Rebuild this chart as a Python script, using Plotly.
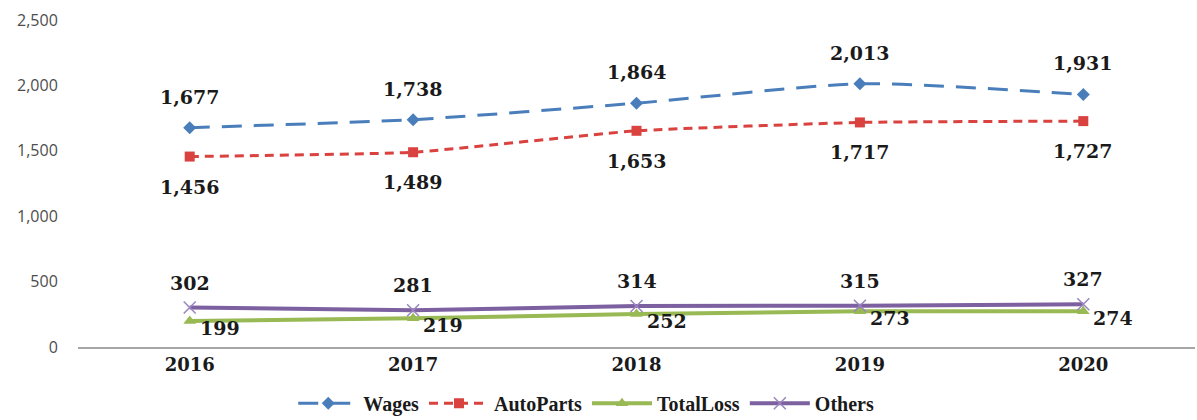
import plotly.graph_objects as go

years = ["2016", "2017", "2018", "2019", "2020"]
wages = [1677, 1738, 1864, 2013, 1931]
auto_parts = [1456, 1489, 1653, 1717, 1727]
total_loss = [199, 219, 252, 273, 274]
others = [302, 281, 314, 315, 327]

label_font = dict(family="DejaVu Serif", size=19, color="#1a1a1a", weight=700)

fig = go.Figure()

fig.add_trace(go.Scatter(
    x=years, y=wages, name="Wages", mode="lines+markers",
    line=dict(color="#4a7ebb", width=3, dash="20px,12px", shape="spline", smoothing=0.6),
    marker=dict(symbol="diamond", size=10, color="#4a7ebb"),
))
fig.add_trace(go.Scatter(
    x=years, y=auto_parts, name="AutoParts", mode="lines+markers",
    line=dict(color="#d9423f", width=3, dash="9px,6px", shape="spline", smoothing=0.4),
    marker=dict(symbol="square", size=10, color="#d9423f"),
))
fig.add_trace(go.Scatter(
    x=years, y=total_loss, name="TotalLoss", mode="lines+markers",
    line=dict(color="#98b954", width=4),
    marker=dict(symbol="triangle-up", size=11, color="#98b954"),
))
fig.add_trace(go.Scatter(
    x=years, y=others, name="Others", mode="lines+markers",
    line=dict(color="#7d60a0", width=4),
    marker=dict(symbol="x-thin", size=12, line=dict(color="#9b84c0", width=1.5)),
))

def fmt(v):
    return f"{v:,}"

# value labels, placed by category index on the category axis
annotations = []
for i, v in enumerate(wages):
    annotations.append(dict(x=i, y=v, text=fmt(v), showarrow=False, yshift=31, font=label_font))
for i, v in enumerate(auto_parts):
    annotations.append(dict(x=i, y=v, text=fmt(v), showarrow=False, yshift=-30, font=label_font))
for i, v in enumerate(others):
    annotations.append(dict(x=i, y=v, text=fmt(v), showarrow=False, yshift=25, font=label_font))
for i, v in enumerate(total_loss):
    annotations.append(dict(x=i, y=v, text=fmt(v), showarrow=False, xshift=30, yshift=-7, font=label_font))

fig.update_layout(
    width=1197, height=420,
    margin=dict(l=78, r=2, t=20, b=73, autoexpand=False),
    plot_bgcolor="white", paper_bgcolor="white",
    showlegend=True,
    legend=dict(orientation="h", x=0.455, xanchor="center", y=-0.172, yanchor="middle",
                font=dict(family="Liberation Serif", size=20, color="#1a1a1a", weight=700),
                itemwidth=60, tracegroupgap=0),
    annotations=annotations,
)
fig.update_xaxes(
    type="category", range=[-0.5, 4.5],
    showline=True, linecolor="#a6a6a6", linewidth=2,
    showgrid=False, ticks="",
    tickfont=dict(family="DejaVu Serif", size=18, color="#1a1a1a", weight=700),
)
fig.update_yaxes(
    range=[0, 2500], tickvals=[0, 500, 1000, 1500, 2000, 2500],
    tickformat=",", showgrid=False, zeroline=False, showline=False,
    ticks="outside", ticklen=16, tickcolor="rgba(0,0,0,0)",
    tickfont=dict(family="Open Sans", size=16, color="#4d4d4d"),
)

fig.write_html("out.html")
